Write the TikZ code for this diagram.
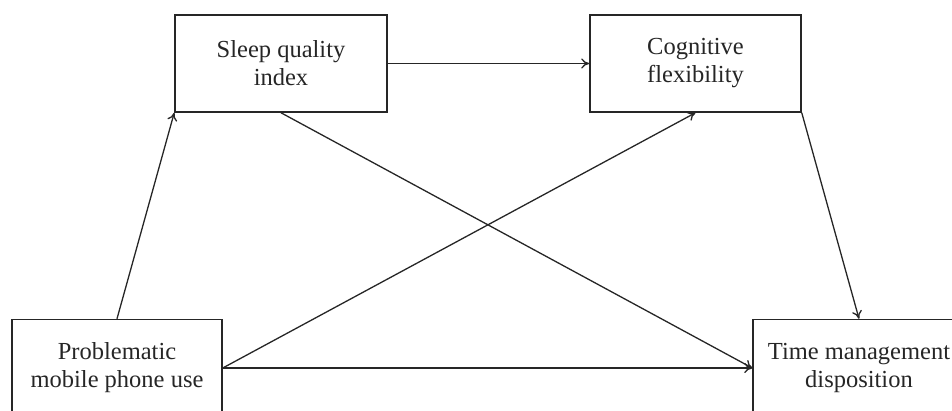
\documentclass[tikz,border=0pt]{standalone}
\usepackage{fontspec}
\setmainfont{Liberation Serif}
\usetikzlibrary{arrows.meta}
\tikzset{>={To[length=8pt,width=10pt]}}
\tikzset{var/.style={draw,line width=1.5pt,draw=black!85,minimum width=212pt,minimum height=97pt,align=center,font=\fontsize{24.5}{28}\selectfont,text=black!85}}

\begin{document}
\begin{tikzpicture}[x=1pt,y=-1pt]
\useasboundingbox (0,0) rectangle (952,410);
\clip (0,0) rectangle (952,410);
    \node[var] (sleep) at (281,63.5) {Sleep quality\\index};
    \node[var,minimum width=211pt] (cog) at (695.5,63.5) {Cognitive\\flexibility};
    \node[var,minimum width=210pt] (prob) at (117,368) {Problematic\\mobile phone use};
    \node[var] (time) at (859,368) {Time management\\disposition};
    \draw[->,line width=1.3pt,black!85] (prob.north)--(sleep.south west);
    \draw[->,line width=1.3pt,black!85] (sleep.east)--(cog.west);
    \draw[->,line width=1.3pt,black!85] (sleep.south)--(time.west);
    \draw[->,line width=1.3pt,black!85] (prob.east)--(cog.south);
    \draw[->,line width=1.3pt,black!85] (prob.east)--(time.west);
    \draw[->,line width=1.3pt,black!85] (cog.south east)--(time.north);
    \end{tikzpicture}
\end{document}
